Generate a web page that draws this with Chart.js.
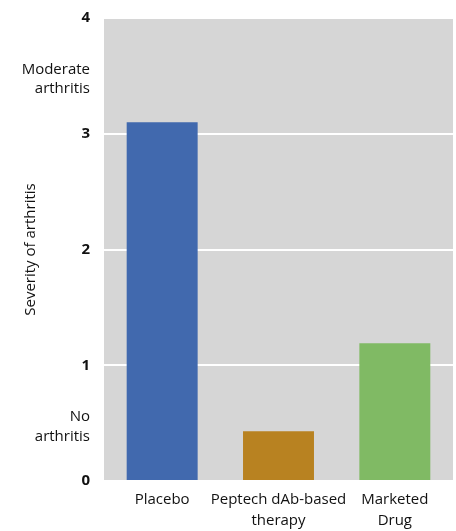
<!DOCTYPE html>
<html><head><meta charset="utf-8">
<script src="https://cdn.jsdelivr.net/npm/chart.js@4/dist/chart.umd.min.js"></script>
<style>html,body{margin:0;padding:0;background:#fff}#wrap{width:456px;height:531px}</style>
</head><body><div id="wrap"><canvas id="c"></canvas></div>
<script>
const categories = [["Placebo"], ["Peptech dAb-based", "therapy"], ["Marketed", "Drug"]];
const severity = [3.10, 0.43, 1.19];
const barColors = ["#4169AE", "#B88221", "#80BA64"];
const yTickValues = [0, 1, 2, 3, 4];
const yNoteValues = [0.47, 3.47];
const yNoteLabels = [["No", "arthritis"], ["Moderate", "arthritis"]];
const yTitle = "Severity of arthritis";
const FONT = "'Open Sans', 'Noto Sans', sans-serif";

const bgPlugin = {
  id: 'bg',
  beforeDraw(chart) {
    const {ctx, chartArea: a} = chart;
    ctx.save(); ctx.fillStyle = '#D6D6D6';
    ctx.fillRect(a.left, a.top, a.right - a.left, a.bottom - a.top);
    ctx.restore();
  }
};

new Chart(document.getElementById('c'), {
  type: 'bar',
  data: { labels: categories, datasets: [{ data: severity, backgroundColor: barColors, borderWidth: 0, barPercentage: 0.61, categoryPercentage: 1 }] },
  options: {
    responsive: true, maintainAspectRatio: false, animation: false,
    layout: { padding: { top: 18, right: 3, left: 0, bottom: 0 } },
    plugins: { legend: { display: false }, tooltip: { enabled: false } },
    scales: {
      x: {
        grid: { display: false, drawTicks: false },
        border: { display: false },
        ticks: { color: '#111', font: { family: FONT, size: 15, lineHeight: 1.4 }, padding: 8, maxRotation: 0, autoSkip: false },
        afterFit(s) { s.height = 50; }
      },
      y: {
        min: 0, max: 4,
        afterBuildTicks(s) {
          const t = yTickValues.map(v => ({ value: v }));
          yNoteValues.forEach(v => t.push({ value: v }));
          t.sort((a, b) => a.value - b.value);
          s.ticks = t;
        },
        ticks: {
          color: '#111', padding: 14, autoSkip: false,
          callback(v) {
            const i = yNoteValues.indexOf(v);
            return i >= 0 ? yNoteLabels[i] : String(v);
          },
          font(ctx) {
            const v = ctx.tick ? ctx.tick.value : 0;
            return yNoteValues.includes(v) ? { family: FONT, size: 15, weight: 'normal', lineHeight: 1.3 } : { family: FONT, size: 15, weight: 'bold' };
          }
        },
        grid: {
          drawTicks: false, lineWidth: 2,
          color(ctx) { return ctx.tick && yNoteValues.includes(ctx.tick.value) ? 'rgba(0,0,0,0)' : '#FFFFFF'; }
        },
        border: { display: false },
        title: { display: true, text: yTitle, color: '#111', font: { family: FONT, size: 15 }, padding: { top: 22, bottom: 0 } },
        afterFit(s) { s.width = 104; s.paddingTop = 0; s.paddingBottom = 0; }
      }
    }
  },
  plugins: [bgPlugin]
});
</script></body></html>
